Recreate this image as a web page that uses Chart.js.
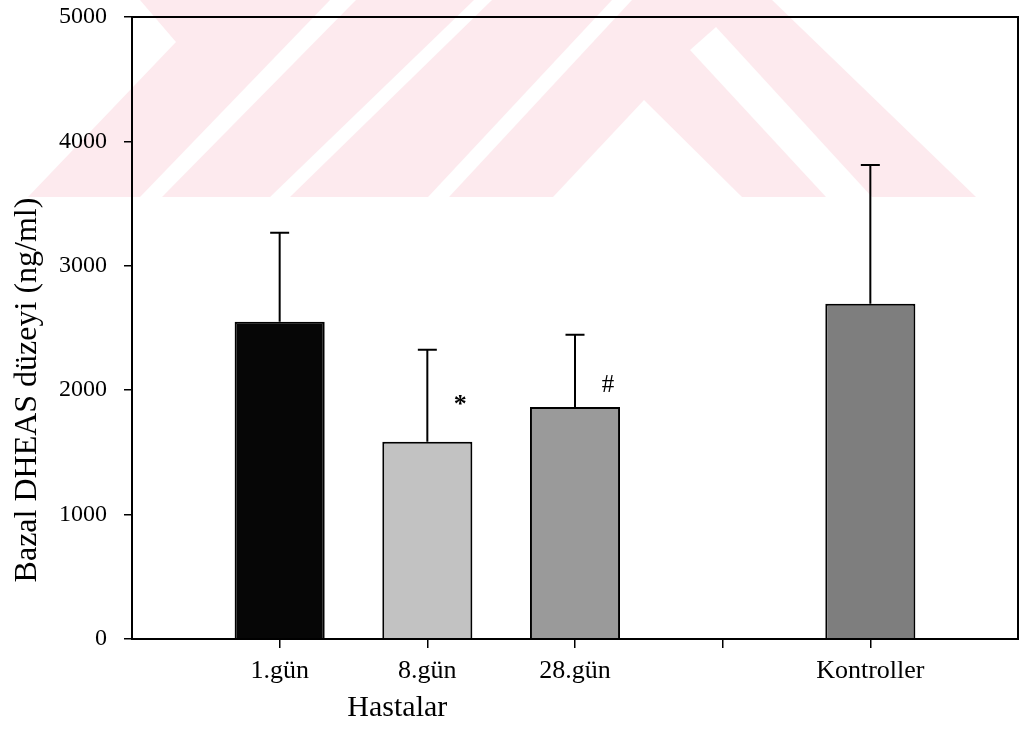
<!DOCTYPE html>
<html>
<head>
<meta charset="utf-8">
<script src="https://cdn.jsdelivr.net/npm/chart.js@4/dist/chart.umd.min.js"></script>
<style>
html, body { margin: 0; padding: 0; background: #fff; }
#wrap { width: 1020px; height: 744px; }
</style>
</head>
<body>
<div id="wrap"><canvas id="dheasChart" width="1020" height="744"></canvas></div>
<script>

// data
const categories = ["", "1.gün", "8.gün", "28.gün", "", "Kontroller", ""]
const meanValues = [null, 2550, 1585, 1865, null, 2695, null]
const upperSD = [null, 3265, 2325, 2445, null, 3810, null]
const signMarks = ["", "", "*", "#", "", "", ""]
const signLevels = [null, null, 1880, 2040, null, null, null]
const barColors = ["#000", "#060606", "#c2c2c2", "#9a9a9a", "#000", "#7e7e7e", "#000"]
const yTicks = [0, 1000, 2000, 3000, 4000, 5000]

const yTitle = "Bazal DHEAS düzeyi (ng/ml)"
const xTitle = "Hastalar"

const FONT = "'Liberation Serif', 'Times New Roman', serif"


// pink thesis-archive watermark behind the plot
const watermark = {
  id: "watermark",
  beforeDraw(chart) {
    const c = chart.ctx
    c.save()
    c.fillStyle = "#fff"
    c.fillRect(0, 0, chart.width, chart.height)

    const poly = (pts, col) => {
      c.beginPath()
      c.moveTo(pts[0][0], pts[0][1])
      for (let i = 1; i < pts.length; i++) c.lineTo(pts[i][0], pts[i][1])
      c.closePath()
      c.fillStyle = col
      c.fill()
    }
    const pink = "rgb(253,234,238)"
    poly([[140, 0], [772, 0], [976, 197], [28, 197], [176, 42]], pink)
    // white cut-outs
    poly([[140, 197], [162, 197], [356, 0], [330, 0]], "#fff")
    poly([[270, 197], [290, 197], [492, 0], [474, 0]], "#fff")
    poly([[428, 197], [449, 197], [632, 0], [612, 0]], "#fff")
    poly([[553, 197], [644, 100], [742, 197]], "#fff")
    poly([[690, 50], [716, 27], [872, 197], [826, 197]], "#fff")
    c.restore()
  }
}


// error bars, significance marks, frame and axis titles
const extras = {
  id: "extras",
  afterDatasetsDraw(chart) {
    const c = chart.ctx
    const xs = chart.scales.x
    const ys = chart.scales.y
    c.save()
    c.strokeStyle = "#000"
    c.lineWidth = 2
    for (let i = 0; i < categories.length; i++) {
      if (meanValues[i] == null) continue
      const x = xs.getPixelForValue(i)
      const y0 = ys.getPixelForValue(meanValues[i])
      const y1 = ys.getPixelForValue(upperSD[i])
      c.beginPath()
      c.moveTo(x, y0)
      c.lineTo(x, y1)
      c.moveTo(x - 9.5, y1)
      c.lineTo(x + 9.5, y1)
      c.stroke()
    }
    c.fillStyle = "#000"
    c.textAlign = "center"
    c.textBaseline = "middle"
    for (let i = 0; i < categories.length; i++) {
      if (!signMarks[i]) continue
      c.font = (signMarks[i] == "*" ? "bold 26px " : "25px ") + FONT
      c.fillText(signMarks[i], xs.getPixelForValue(i) + 33, ys.getPixelForValue(signLevels[i]))
    }
    c.restore()
  },
  afterDraw(chart) {
    const c = chart.ctx
    const a = chart.chartArea
    c.save()
    c.strokeStyle = "#000"
    c.lineWidth = 2
    c.strokeRect(a.left, a.top, a.right - a.left, a.bottom - a.top)

    c.fillStyle = "#000"
    c.textAlign = "center"
    c.textBaseline = "middle"
    c.font = "30px " + FONT
    c.fillText(xTitle, chart.scales.x.getPixelForValue(2) - 30, 708)

    c.translate(28, 390)
    c.rotate(-Math.PI / 2)
    c.font = "32px " + FONT
    c.fillText(yTitle, 0, 0)
    c.restore()
  }
}


const ctx = document.getElementById("dheasChart").getContext("2d")

const chart = new Chart(ctx, {
  type: "bar",
  data: {
    labels: categories,
    datasets: [{
      data: meanValues,
      backgroundColor: barColors,
      borderColor: "#000",
      borderWidth: 2,
      categoryPercentage: 1,
      barPercentage: 0.61
    }]
  },
  options: {
    responsive: false,
    animation: false,
    devicePixelRatio: 1,
    layout: { padding: { top: 17, right: 2, left: 0, bottom: 0 } },
    plugins: {
      legend: { display: false },
      tooltip: { enabled: false }
    },
    scales: {
      x: {
        type: "category",
        offset: false,
        afterFit(scale) {
          scale.height = 105
          scale.paddingLeft = 0
          scale.paddingRight = 0
        },
        grid: {
          offset: false,
          drawOnChartArea: false,
          tickLength: 9,
          lineWidth: 1.5,
          color: c => (c.index == 0 || c.index == categories.length - 1) ? "rgba(0,0,0,0)" : "#000"
        },
        border: { display: true, color: "#000", width: 2 },
        ticks: {
          color: "#000",
          padding: 8,
          maxRotation: 0,
          autoSkip: false,
          font: { family: FONT, size: 26 }
        }
      },
      y: {
        min: 0,
        max: 5000,
        afterFit(scale) {
          scale.width = 132
          scale.paddingTop = 0
          scale.paddingBottom = 0
        },
        afterBuildTicks(scale) { scale.ticks = yTicks.map(v => ({ value: v })) },
        grid: {
          drawOnChartArea: false,
          tickLength: 8,
          lineWidth: 1.5,
          color: "#000"
        },
        border: { display: true, color: "#000", width: 2 },
        ticks: {
          color: "#000",
          padding: 17,
          callback: v => String(v),
          font: { family: FONT, size: 24 }
        }
      }
    }
  },
  plugins: [watermark, extras]
})

</script>
</body>
</html>
